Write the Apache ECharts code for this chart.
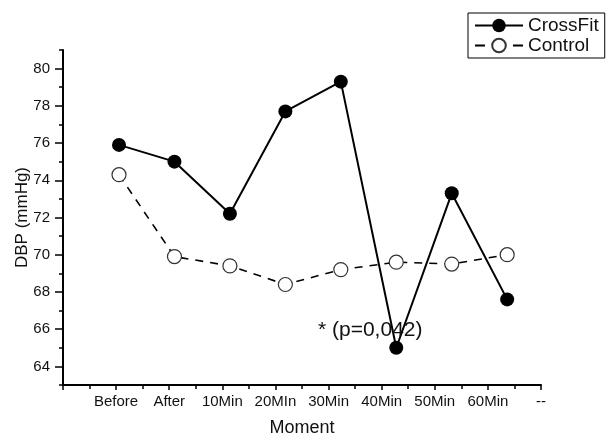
<!DOCTYPE html>
<html>
<head>
<meta charset="utf-8">
<script src="https://cdn.jsdelivr.net/npm/echarts@6/dist/echarts.min.js"></script>
<style>
html,body{margin:0;padding:0;background:#fff;}
#c{width:606px;height:437px;}
</style>
</head>
<body>
<div id="c"></div>
<script>
const categories = ['Before', 'After', '10Min', '20MIn', '30Min', '40Min', '50Min', '60Min'];
const tickLabels = ['', 'Before', 'After', '10Min', '20MIn', '30Min', '40Min', '50Min', '60Min', '--'];
const crossFit = [75.9, 75.0, 72.2, 77.7, 79.3, 65.0, 73.3, 67.6];
const control = [74.3, 69.9, 69.4, 68.4, 69.2, 69.6, 69.5, 70.0];
const yMajorTicks = [64, 66, 68, 70, 72, 74, 76, 78, 80];
const yMinorTicks = [63, 65, 67, 69, 71, 73, 75, 77, 79, 81];
const annotation = '* (p=0,042)';

const FONT = 'Liberation Sans, Arial, sans-serif';
const chart = echarts.init(document.getElementById('c'), null, {renderer: 'canvas'});

chart.setOption({
  animation: false,
  backgroundColor: '#fff',
  textStyle: {fontFamily: FONT, color: '#111'},
  grid: {left: 63, right: 65, top: 50, bottom: 52, containLabel: false, outerBoundsMode: 'none'},
  legend: {
    orient: 'vertical',
    left: 468, top: 13,
    padding: [3, 6, 3, 6],
    itemGap: 1,
    itemWidth: 48, itemHeight: 17,
    borderColor: '#000', borderWidth: 1,
    textStyle: {fontFamily: FONT, fontSize: 19, color: '#111'},
    data: [
      {name: 'CrossFit'},
      {name: 'Control', lineStyle: {type: [10, 28], width: 2}}
    ]
  },
  xAxis: [{
    type: 'value', min: 0, max: tickLabels.length - 1, interval: 1,
    name: 'Moment', nameLocation: 'middle', nameGap: 34, nameMoveOverlap: false,
    nameTextStyle: {fontFamily: FONT, fontSize: 18, color: '#111'},
    axisLine: {show: true, onZero: false, lineStyle: {color: '#000', width: 2}},
    axisTick: {show: true, length: 5, lineStyle: {color: '#000', width: 1.5}},
    minorTick: {show: true, splitNumber: 2, length: 4, lineStyle: {color: '#000', width: 1.5}},
    axisLabel: {fontSize: 15, color: '#111', margin: 9, formatter: v => tickLabels[Math.round(v)] || ''},
    splitLine: {show: false}
  }, {
    type: 'value', min: -1.01, max: 7.61, show: false
  }],
  yAxis: [{
    type: 'value', min: 63, max: 81,
    name: 'DBP (mmHg)', nameLocation: 'middle', nameGap: 32, nameMoveOverlap: false,
    nameTextStyle: {fontFamily: FONT, fontSize: 17, color: '#111'},
    axisLine: {show: true, onZero: false, lineStyle: {color: '#000', width: 2}},
    axisTick: {show: true, length: 8, customValues: yMajorTicks, lineStyle: {color: '#000', width: 1.5}},
    axisLabel: {fontSize: 15, color: '#111', margin: 13, customValues: yMajorTicks},
    splitLine: {show: false}
  }, {
    type: 'value', min: 63, max: 81, position: 'left',
    axisLine: {show: false},
    axisTick: {show: true, length: 4, customValues: yMinorTicks, lineStyle: {color: '#000', width: 1.5}},
    axisLabel: {show: false},
    splitLine: {show: false}
  }],
  series: [{
    name: 'Control', type: 'line', xAxisIndex: 1, yAxisIndex: 0,
    data: control.map((v, i) => [i, v]),
    symbol: 'circle', symbolSize: 14,
    itemStyle: {color: '#fff', borderColor: '#333', borderWidth: 1.2},
    lineStyle: {color: '#000', width: 1.6, type: [8, 7]},
    z: 2
  }, {
    name: 'CrossFit', type: 'line', xAxisIndex: 1, yAxisIndex: 0,
    data: crossFit.map((v, i) => [i, v]),
    symbol: 'circle', symbolSize: 14,
    itemStyle: {color: '#000', borderColor: '#000', borderWidth: 0},
    lineStyle: {color: '#000', width: 2},
    z: 3
  }],
  graphic: [{
    type: 'text', left: 318, top: 320, z: 10,
    style: {text: annotation, font: '21px ' + FONT, fill: '#111'}
  }]
});
</script>
</body>
</html>
